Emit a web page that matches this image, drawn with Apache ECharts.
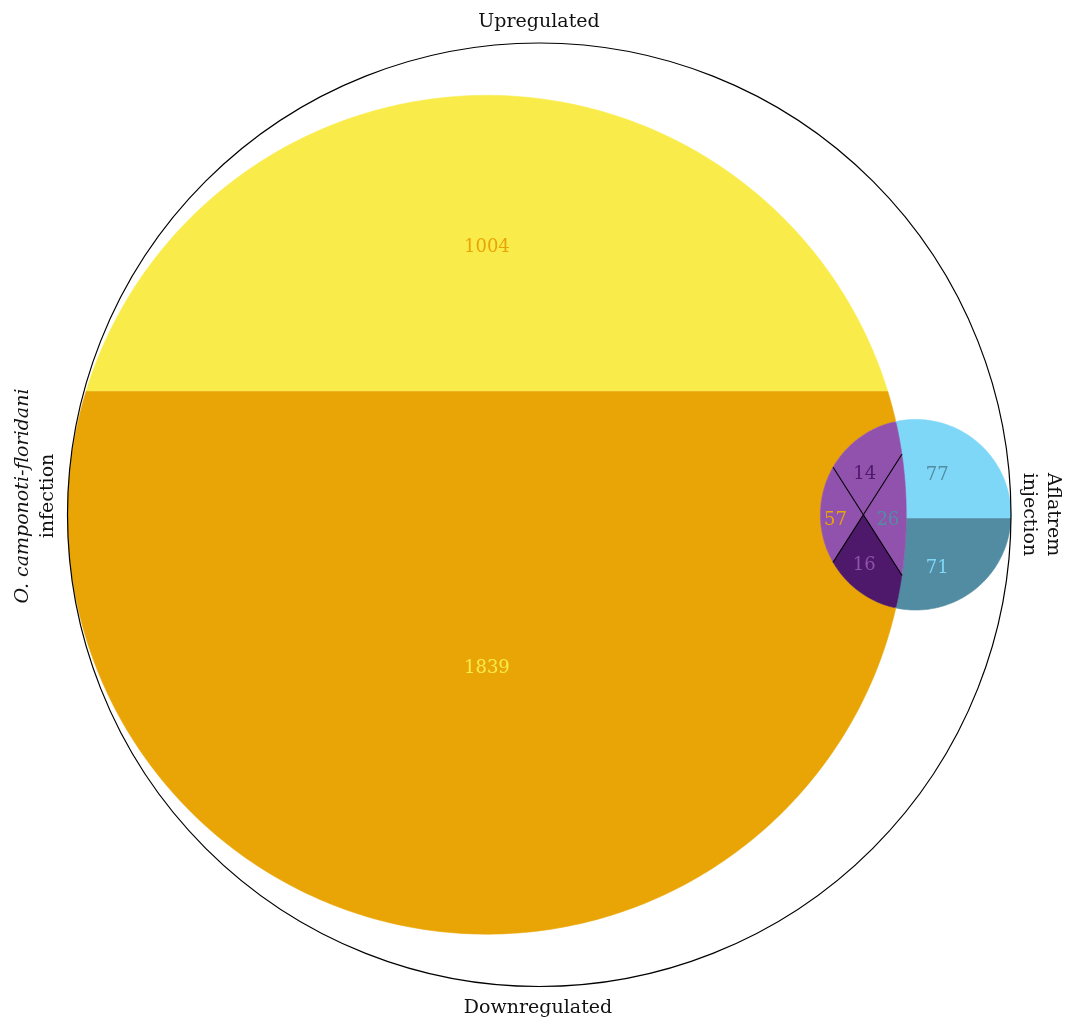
<!DOCTYPE html>
<html>
<head>
<meta charset="utf-8">
<script src="https://cdn.jsdelivr.net/npm/echarts@6/dist/echarts.min.js"></script>
<style>
  html, body { margin: 0; padding: 0; background: #ffffff; }
  #chart { width: 1065px; height: 1019px; }
</style>
</head>
<body>
<div id="chart"></div>
<script>
// ---- Gene counts ----
const infectionOnly = [1004, 1839];     // up, down: O. camponoti-floridani infection only
const aflatremOnly = [77, 71];          // up, down: aflatrem injection only
const sharedCounts = [14, 57, 26, 16];  // shared genes: top, left, right, bottom wedge
const directionLabels = ['Upregulated', 'Downregulated'];
const infectionLabel = ['O. camponoti-floridani', 'infection'];
const aflatremLabel = ['Aflatrem', 'injection'];

// ---- Layout in diagram units (outer ring radius 1, centred on the origin) ----
const RA = 0.889, RB = 0.202;
const A = [-1 + RA, 0];
const B = [1 - RB, 0];
const CUT = 57.5 * Math.PI / 180;
const FONT = '"DejaVu Serif", "Liberation Serif", serif';

const fills = {
  yellow: '#F9EC4A', orange: '#E9A506', sky: '#7ED7F7',
  teal: '#528CA3', purple: '#9152AD', plum: '#4E196A'
};

function arc(c, r, a0, a1, n) {
  const pts = [];
  for (let i = 0; i <= n; i++) {
    const a = a0 + (a1 - a0) * i / n;
    pts.push([c[0] + r * Math.cos(a), c[1] + r * Math.sin(a)]);
  }
  return pts;
}
function rayExit(p, u, c, r) {
  const dx = p[0] - c[0], dy = p[1] - c[1];
  const b = dx * u[0] + dy * u[1];
  const cc = dx * dx + dy * dy - r * r;
  return -b + Math.sqrt(b * b - cc);
}

// lens corners where the two circles meet
const d = B[0] - A[0];
const aDist = (d * d + RA * RA - RB * RB) / (2 * d);
const xc = A[0] + aDist;
const hc = Math.sqrt(RA * RA - aDist * aDist);
const thU = Math.atan2(hc, xc - A[0]), thL = -thU;
const psU = Math.atan2(hc, xc - B[0]), psL = -psU;

// up/down split of the infection-only part
const ySplitA = A[1] + RA - 2 * RA * infectionOnly[0] / (infectionOnly[0] + infectionOnly[1]);
const th1 = Math.asin((ySplitA - A[1]) / RA);
// up/down split of the aflatrem-only part
const ySplitB = B[1] + RB - 2 * RB * aflatremOnly[0] / (aflatremOnly[0] + aflatremOnly[1]);
const beta = Math.asin((ySplitB - B[1]) / RB);
const thS = Math.asin((ySplitB - A[1]) / RA);

// lens wedges around the lens centre
const C = [((B[0] - RB) + (A[0] + RA)) / 2, 0];
function lensEdge(t) {
  const u = [Math.cos(t), Math.sin(t)];
  const s = Math.min(rayExit(C, u, A, RA), rayExit(C, u, B, RB));
  return [C[0] + s * u[0], C[1] + s * u[1]];
}
function wedge(t0, t1) {
  const pts = [C];
  for (let i = 0; i <= 60; i++) pts.push(lensEdge(t0 + (t1 - t0) * i / 60));
  return pts;
}

// label anchors; nudge is a small pixel shift of the text
const regions = [
  { value: infectionOnly[0], fill: fills.yellow, color: fills.orange,
    poly: arc(A, RA, th1, Math.PI - th1, 160),
    label: [A[0], (A[1] + RA + ySplitA) / 2], nudge: 4 },
  { value: infectionOnly[1], fill: fills.orange, color: fills.yellow,
    poly: [].concat(arc(A, RA, Math.PI - th1, 2 * Math.PI + thL, 240),
                    arc(B, RB, psL, psU - 2 * Math.PI, 90),
                    arc(A, RA, thU, th1, 12)),
    label: [A[0], (ySplitA + A[1] - RA) / 2], nudge: 5.5 },
  { value: aflatremOnly[0], fill: fills.sky, color: fills.teal,
    poly: [].concat(arc(B, RB, beta, psU, 90), arc(A, RA, thU, thS, 30)),
    label: [(C[0] + B[0] + RB) / 2, (B[1] + RB + ySplitB) / 2 - 0.007], nudge: 2.5 },
  { value: aflatremOnly[1], fill: fills.teal, color: fills.sky,
    poly: [].concat(arc(B, RB, beta, psL, 90), arc(A, RA, thL, thS, 30)),
    label: [(C[0] + B[0] + RB) / 2, (B[1] - RB + ySplitB) / 2 - 0.003], nudge: 2.5 },
  { value: sharedCounts[0], fill: fills.purple, color: fills.plum,
    poly: wedge(CUT, Math.PI - CUT), label: [C[0] + 0.003, C[1] + 0.088], nudge: 1.5 },
  { value: sharedCounts[1], fill: fills.purple, color: fills.orange,
    poly: wedge(Math.PI - CUT, Math.PI + CUT), label: [C[0] - 0.059, C[1] - 0.009], nudge: 1.5 },
  { value: sharedCounts[2], fill: fills.purple, color: fills.teal,
    poly: wedge(-CUT, CUT), label: [C[0] + 0.052, C[1] - 0.009], nudge: 1.5 },
  { value: sharedCounts[3], fill: fills.plum, color: fills.purple,
    poly: wedge(Math.PI + CUT, 2 * Math.PI - CUT), label: [C[0] + 0.002, C[1] - 0.104], nudge: 2 }
];

const cutLines = [CUT, Math.PI - CUT].map(t => [lensEdge(t), lensEdge(t + Math.PI)]);

const chart = echarts.init(document.getElementById('chart'), null, { renderer: 'canvas' });
chart.setOption({
  backgroundColor: '#ffffff',
  animation: false,
  grid: { left: 67.5, top: 43, width: 943.5, height: 943.5 },
  xAxis: { type: 'value', min: -1, max: 1, show: false },
  yAxis: { type: 'value', min: -1, max: 1, show: false },
  series: [
    {
      type: 'custom',
      coordinateSystem: 'cartesian2d',
      clip: false,
      z: 2,
      data: regions.map((r, i) => [i, r.value]),
      renderItem: function (params, api) {
        const r = regions[api.value(0)];
        const lp = api.coord(r.label);
        return {
          type: 'group',
          children: [
            { type: 'polygon', shape: { points: r.poly.map(p => api.coord(p)) },
              style: { fill: r.fill, stroke: r.fill, lineWidth: 0.6 } },
            { type: 'text', z2: 20,
              style: { text: String(api.value(1)), x: lp[0], y: lp[1] + r.nudge, fill: r.color,
                       font: '18px ' + FONT, align: 'center', verticalAlign: 'middle' } }
          ]
        };
      }
    },
    {
      type: 'custom',
      coordinateSystem: 'cartesian2d',
      clip: false,
      z: 3,
      data: [[0]],
      renderItem: function (params, api) {
        const o = api.coord([0, 0]);
        const edge = api.coord([1, 0]);
        const children = [
          { type: 'circle', shape: { cx: o[0], cy: o[1], r: edge[0] - o[0] },
            style: { fill: 'none', stroke: '#000000', lineWidth: 1.2 } }
        ];
        cutLines.forEach(seg => {
          const p = api.coord(seg[0]), q = api.coord(seg[1]);
          children.push({ type: 'line', shape: { x1: p[0], y1: p[1], x2: q[0], y2: q[1] },
                          style: { stroke: '#000000', lineWidth: 1.1 } });
        });
        return { type: 'group', children: children };
      }
    }
  ],
  graphic: {
    elements: [
      { type: 'text', x: 539, y: 22,
        style: { text: directionLabels[0], font: '19px ' + FONT, fill: '#111111',
                 align: 'center', verticalAlign: 'middle' } },
      { type: 'text', x: 538, y: 1008,
        style: { text: directionLabels[1], font: '19px ' + FONT, fill: '#111111',
                 align: 'center', verticalAlign: 'middle' } },
      { type: 'text', x: 35.5, y: 496, rotation: Math.PI / 2,
        style: {
          text: '{it|' + infectionLabel[0] + '}\n{rm|' + infectionLabel[1] + '}',
          align: 'center', verticalAlign: 'middle', fill: '#111111',
          rich: {
            it: { fontFamily: FONT, fontSize: 19, fontStyle: 'italic', lineHeight: 25, fill: '#111111', align: 'center' },
            rm: { fontFamily: FONT, fontSize: 19, lineHeight: 25, fill: '#111111', align: 'center' }
          }
        } },
      { type: 'text', x: 1040.5, y: 514.5, rotation: -Math.PI / 2,
        style: {
          text: aflatremLabel[0] + '\n' + aflatremLabel[1],
          font: '19px ' + FONT, lineHeight: 24, fill: '#111111',
          align: 'center', verticalAlign: 'middle'
        } }
    ]
  }
});
</script>
</body>
</html>
